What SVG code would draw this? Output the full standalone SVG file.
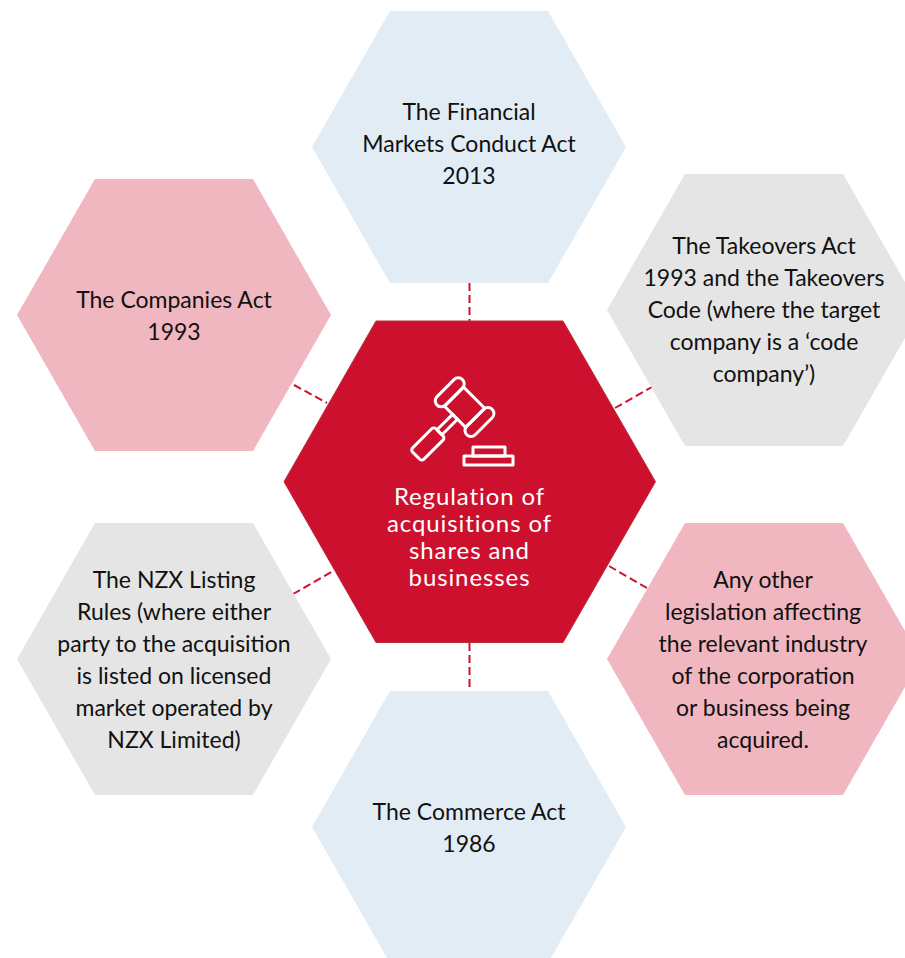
<svg xmlns="http://www.w3.org/2000/svg" width="905" height="958" viewBox="0 0 905 958">
<style>
text{font-family:"Lato","Liberation Sans",sans-serif;font-size:23px;fill:#111;text-anchor:middle}
.blue{fill:#e2ecf5}.pink{fill:#f1b7c1}.grey{fill:#e5e5e5}
.link{stroke:#cf102d;stroke-width:2;stroke-dasharray:8 4;fill:none}
.ic{fill:none;stroke:#fff;stroke-width:3;stroke-linejoin:round}
text.c{fill:#fff;font-size:24px;letter-spacing:0.9px}
</style>
<rect width="905" height="958" fill="#fff"/>
<g id="connectors">
<line class="link" x1="469.5" y1="283" x2="469.5" y2="321"/>
<line class="link" x1="469.5" y1="643" x2="469.5" y2="690"/>
<line class="link" x1="294" y1="385" x2="327" y2="403"/>
<line class="link" x1="615" y1="408" x2="652" y2="387"/>
<line class="link" x1="293" y1="594" x2="333" y2="571"/>
<line class="link" x1="609" y1="566" x2="647" y2="588"/>
</g>
<g id="node-financial"><polygon class="blue" points="390,11 548,11 626,147 548,283 390,283 312,147"/>
<text x="469" y="120">The Financial</text><text x="469" y="152">Markets Conduct Act</text><text x="469" y="184">2013</text></g>
<g id="node-companies"><polygon class="pink" points="95,179 253,179 331,315 253,451 95,451 17,315"/>
<text x="174" y="308">The Companies Act</text><text x="174" y="340">1993</text></g>
<g id="node-takeovers"><polygon class="grey" points="685,174 843,174 921,310 843,446 685,446 607,310"/>
<text x="764" y="254">The Takeovers Act</text><text x="764" y="286">1993 and the Takeovers</text><text x="764" y="318">Code (where the target</text><text x="764" y="350">company is a ‘code</text><text x="764" y="382">company’)</text></g>
<g id="node-other"><polygon class="pink" points="685,523 843,523 921,659 843,795 685,795 607,659"/>
<text x="763" y="588">Any other</text><text x="763" y="620">legislation affecting</text><text x="763" y="652">the relevant industry</text><text x="763" y="684">of the corporation</text><text x="763" y="716">or business being</text><text x="763" y="748">acquired.</text></g>
<g id="node-nzx"><polygon class="grey" points="95,523 253,523 331,659 253,795 95,795 17,659"/>
<text x="174" y="588">The NZX Listing</text><text x="174" y="620">Rules (where either</text><text x="174" y="652">party to the acquisition</text><text x="174" y="684">is listed on licensed</text><text x="174" y="716">market operated by</text><text x="174" y="748">NZX Limited)</text></g>
<g id="node-commerce"><polygon class="blue" points="390,691 548,691 626,827 548,963 390,963 312,827"/>
<text x="469" y="820">The Commerce Act</text><text x="469" y="852">1986</text></g>
<g id="node-centre"><polygon fill="#cd102e" stroke="#bb2e3a" stroke-width="1" points="376,321 563,321 655.5,481.7 563,642.5 376,642.5 284,481.7"/>
<g transform="translate(464.6 407.2) rotate(45)">
<rect class="ic" x="-27" y="-18" width="12" height="36" rx="6"/>
<rect class="ic" x="15" y="-18" width="12" height="36" rx="6"/>
<rect class="ic" x="-15" y="-13.5" width="30" height="27"/>
<rect class="ic" x="-3.5" y="13.5" width="7" height="22"/>
<rect class="ic" x="-8" y="35.5" width="16" height="33" rx="3"/>
</g>
<rect class="ic" x="473" y="447" width="32" height="9"/>
<rect class="ic" x="464" y="456" width="49" height="9"/>
<text class="c" x="469.5" y="505">Regulation of</text><text class="c" x="469.5" y="532">acquisitions of</text><text class="c" x="469.5" y="559">shares and</text><text class="c" x="469.5" y="586">businesses</text>
</g>
</svg>
